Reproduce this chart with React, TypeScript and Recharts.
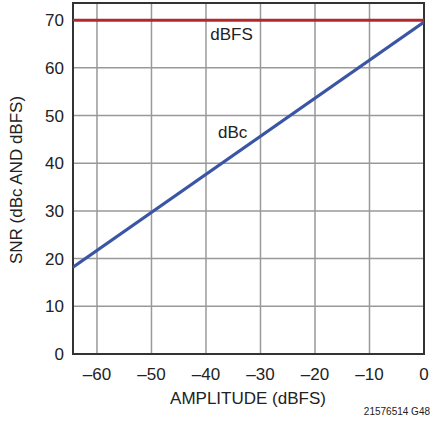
import {
  LineChart,
  Line,
  XAxis,
  YAxis,
  CartesianGrid,
  ReferenceArea,
  ReferenceDot,
} from 'recharts';

const amplitude = [-64.4, 0];
const snrDbc = [18.2, 69.6];
const snrDbfs = [70, 70];
const xTicks = [-60, -50, -40, -30, -20, -10, 0];
const yTicks = [0, 10, 20, 30, 40, 50, 60, 70];

const FONT = '"Liberation Sans Narrow", "Liberation Sans", Arial, sans-serif';

const data = amplitude.map((a, i) => ({ amp: a, dbc: snrDbc[i], dbfs: snrDbfs[i] }));

function fmt(v: number): string {
  return String(v).replace('-', '\u2013');
}

export default function App() {
  return (
    <div style={{ position: 'absolute', left: 0, top: 0, width: 430, height: 421, background: '#fff', fontFamily: FONT }}>
      <LineChart
        width={430}
        height={421}
        data={data}
        margin={{ top: 3, right: 6, left: 33, bottom: 37 }}
      >
        <CartesianGrid stroke="#999" strokeWidth={1.5} />
        <XAxis
          type="number"
          dataKey="amp"
          domain={[-64.4, 0]}
          allowDataOverflow
          ticks={xTicks}
          tickFormatter={fmt}
          tickLine={false}
          tickSize={0}
          tickMargin={14}
          axisLine={false}
          height={30}
          tick={{ fontSize: 17, fill: '#222', fontFamily: FONT }}
        />
        <YAxis
          type="number"
          domain={[0, 73.6]}
          allowDataOverflow
          ticks={yTicks}
          tickLine={false}
          tickSize={0}
          tickMargin={9}
          axisLine={false}
          width={40}
          tick={{ fontSize: 17, fill: '#222', fontFamily: FONT }}
        />
        <Line
          dataKey="dbfs"
          stroke="#b3282e"
          strokeWidth={3}
          dot={false}
          isAnimationActive={false}
        />
        <Line
          dataKey="dbc"
          stroke="#3b55a5"
          strokeWidth={3}
          dot={false}
          isAnimationActive={false}
        />
        <ReferenceArea
          x1={-64.4}
          x2={0}
          y1={0}
          y2={73.6}
          fill="none"
          fillOpacity={0}
          stroke="#333"
          strokeWidth={2}
        />
        <ReferenceDot
          x={-35.3}
          y={67.2}
          r={0}
          stroke="none"
          label={{ value: 'dBFS', position: 'center', fontSize: 17, fill: '#222', fontFamily: FONT }}
        />
        <ReferenceDot
          x={-35.1}
          y={46.5}
          r={0}
          stroke="none"
          label={{ value: 'dBc', position: 'center', fontSize: 17, fill: '#222', fontFamily: FONT }}
        />
      </LineChart>
      <div style={{ position: 'absolute', left: 0, width: 430, top: 389, textAlign: 'center', paddingLeft: 66, boxSizing: 'border-box', fontSize: 17, color: '#222', lineHeight: '20px' }}>
        AMPLITUDE (dBFS)
      </div>
      <div
        style={{
          position: 'absolute',
          left: 17,
          top: 180,
          transform: 'translate(-50%, -50%) rotate(-90deg)',
          whiteSpace: 'nowrap',
          fontSize: 17,
          color: '#222',
          lineHeight: '20px',
        }}
      >
        SNR (dBc AND dBFS)
      </div>
      <div style={{ position: 'absolute', right: 0, top: 406, fontSize: 10, color: '#222', lineHeight: '12px' }}>
        21576514 G48
      </div>
    </div>
  );
}
